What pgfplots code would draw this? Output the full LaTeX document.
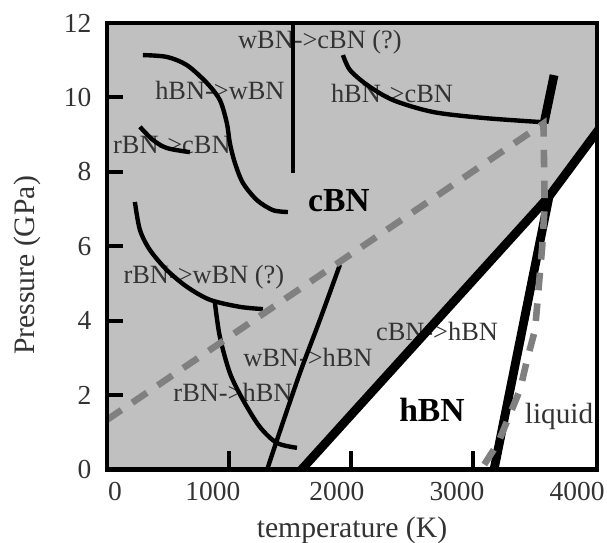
\documentclass[border=0pt]{standalone}
\usepackage{fontspec}
\setmainfont{Liberation Serif}
\usepackage{pgfplots}
\pgfplotsset{compat=1.18}
\definecolor{fasecinza}{HTML}{C0C0C0}
\definecolor{tracejado}{HTML}{808080}
\definecolor{textocinza}{HTML}{333333}

\begin{document}
\begin{tikzpicture}
\begin{axis}[
  scale only axis, width=223pt, height=203pt,
  xmin=0, xmax=4020, ymin=0, ymax=12,
  axis on top,
  axis line style={line width=2pt},
  xtick pos=bottom, ytick pos=left,
  major tick length=0pt,
  xtick={66,870,1887,2871,3856},
  xticklabels={0,1000,2000,3000,4000},
  ytick={0,2,...,12},
  /pgf/number format/assume math mode=true,
  tick label style={font=\fontsize{12.5}{14}\selectfont, text=textocinza},
  yticklabel style={xshift=-3.5pt},
  xticklabel style={yshift=-2.5pt},
  xlabel={temperature (K)}, ylabel={Pressure (GPa)},
  label style={font=\fontsize{13.5}{16}\selectfont, text=textocinza},
  xlabel style={at={(axis description cs:0.5,-0.136)}, anchor=center},
  ylabel style={at={(axis description cs:-0.163,0.457)}, anchor=center},
]
% regiao cinza (cBN estavel)
\addplot[draw=none, fill=fasecinza] coordinates {(0,0) (1583,0) (3626,7.34) (4020,9.09) (4020,12) (0,12)} -- cycle;

% rotulos
\node[font=\fontsize{12}{14}\selectfont, text=textocinza] at (axis cs:1747,11.49) {wBN->cBN (?)};
\node[font=\fontsize{12}{14}\selectfont, text=textocinza] at (axis cs:927,10.2) {hBN->wBN};
\node[font=\fontsize{12}{14}\selectfont, text=textocinza] at (axis cs:533,8.72) {rBN->cBN};
\node[font=\fontsize{12}{14}\selectfont, text=textocinza] at (axis cs:2338,10.12) {hBN->cBN};
\node[font=\fontsize{12}{14}\selectfont, text=textocinza] at (axis cs:796,5.17) {rBN->wBN (?)};
\node[font=\fontsize{12}{14}\selectfont, text=textocinza] at (axis cs:1649,3.02) {wBN->hBN};
\node[font=\fontsize{12}{14}\selectfont, text=textocinza] at (axis cs:1034,2.06) {rBN->hBN};
\node[font=\fontsize{12}{14}\selectfont, text=textocinza] at (axis cs:2707,3.70) {cBN->hBN};
\node[font=\fontsize{13.3}{15}\selectfont, text=textocinza] at (axis cs:3708,1.41) {liquid};
\node[font=\fontsize{15.3}{17}\selectfont\bfseries] at (axis cs:1903,7.22) {cBN};
\node[font=\fontsize{15.3}{17}\selectfont\bfseries] at (axis cs:2666,1.60) {hBN};

% linhas grossas: cBN/hBN e fusao
\addplot[line width=4pt] coordinates {(1570,-0.1) (3626,7.34) (4040,9.17)};
\addplot[line width=4pt] coordinates {(3626,7.34) (3169,-0.1)};
\addplot[line width=4pt] coordinates {(3667,10.6) (3585,9.31)};

% curvas de transformacao
\addplot[line width=2pt] coordinates {(1526,12.1) (1526,7.97)};
\addplot[line width=2pt, smooth] coordinates {(295,11.14) (492,11.09) (656,10.87) (820,10.39) (927,9.93) (984,9.31) (1009,8.77) (1050,8.24) (1116,7.70) (1231,7.24) (1362,6.97) (1485,6.92)};
\addplot[line width=2pt, smooth] coordinates {(271,9.21) (377,8.86) (492,8.64) (681,8.53)};
\addplot[line width=2pt, smooth] coordinates {(1936,11.14) (1993,10.74) (2133,10.34) (2346,9.93) (2674,9.61) (3084,9.45) (3552,9.34)};
\addplot[line width=2pt, smooth] coordinates {(230,7.19) (271,6.44) (353,5.90) (492,5.36) (656,4.91) (845,4.56) (1091,4.37) (1280,4.31)};
\addplot[line width=2pt, smooth] coordinates {(886,4.48) (927,3.56) (1009,2.59) (1116,1.87) (1255,1.14) (1395,0.71) (1559,0.58)};
\addplot[line width=2pt, smooth] coordinates {(1305,-0.1) (1395,0.79) (1583,2.59) (1747,4.02) (1911,5.5)};

% tracejado cinza
\addplot[tracejado, line width=3pt, dash pattern=on 8pt off 6pt] coordinates {(0,1.33) (3580,9.3) (3590,7.1) (3570,6.0) (3511,3.75) (3445,2.94) (3388,2.14) (3208,0.71) (3050,-0.1)};

% tracos dos ticks, para dentro
\addplot[line width=1.8pt] coordinates {(1000,0) (1000,0.5)};
\addplot[line width=1.8pt] coordinates {(2000,0) (2000,0.5)};
\addplot[line width=1.8pt] coordinates {(3000,0) (3000,0.5)};
\addplot[line width=1.8pt] coordinates {(0,2) (130,2)};
\addplot[line width=1.8pt] coordinates {(0,4) (130,4)};
\addplot[line width=1.8pt] coordinates {(0,6) (130,6)};
\addplot[line width=1.8pt] coordinates {(0,8) (130,8)};
\addplot[line width=1.8pt] coordinates {(0,10) (130,10)};
\end{axis}
\pgfresetboundingbox
\path ([xshift=-48.6pt,yshift=-33.2pt]current axis.south west) rectangle ([xshift=4.5pt,yshift=10.5pt]current axis.north east);
\end{tikzpicture}
\end{document}
